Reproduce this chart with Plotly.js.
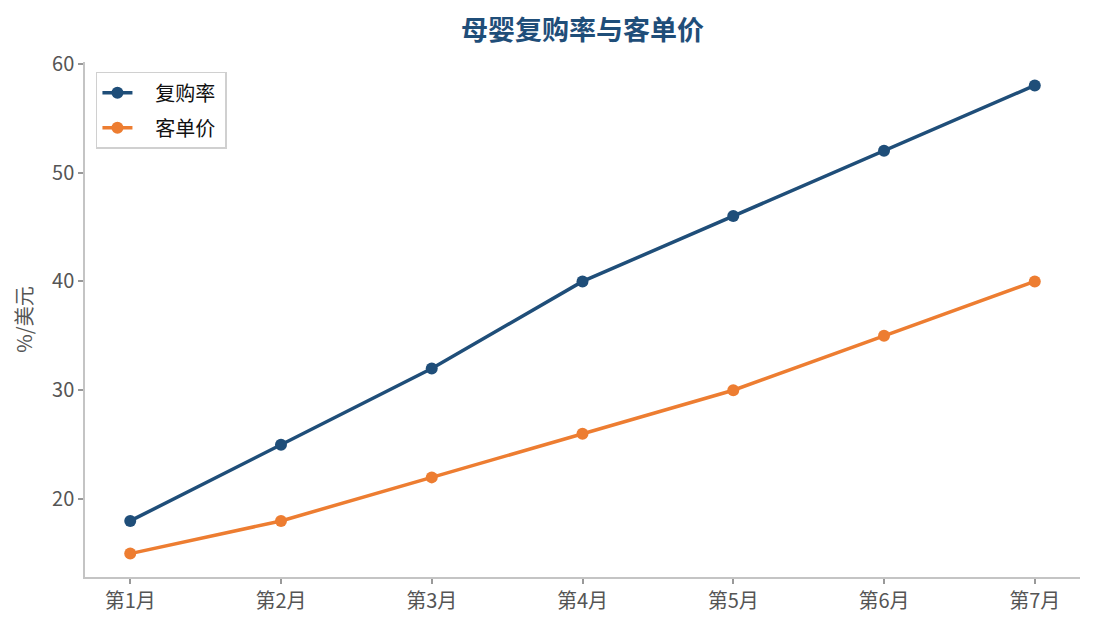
<!DOCTYPE html>
<html>
<head>
<meta charset="utf-8">
<script src="https://cdn.plot.ly/plotly-3.0.1.min.js"></script>
<style>
  html, body { margin: 0; padding: 0; background: #fff; }
  #chart { width: 1095px; height: 630px; }
</style>
</head>
<body>
<div id="chart"></div>
<script>
var months = ['第1月', '第2月', '第3月', '第4月', '第5月', '第6月', '第7月'];
var repurchaseRate = [18, 25, 32, 40, 46, 52, 58];
var unitPrice = [15, 18, 22, 26, 30, 35, 40];

var FONT = '"Noto Sans CJK SC", "Noto Sans", sans-serif';
var PAD = '\u00a0\u00a0\u00a0\u00a0';

var traceRate = {
    x: months,
    y: repurchaseRate,
    name: PAD + '复购率\u00a0',
    legendgroup: 'rate',
    type: 'scatter',
    mode: 'lines+markers',
    line: {color: '#1f4e79', width: 3.5},
    marker: {color: '#1f4e79', size: 12}
};
var tracePrice = {
    x: months,
    y: unitPrice,
    name: PAD + '客单价\u00a0',
    legendgroup: 'price',
    type: 'scatter',
    mode: 'lines+markers',
    line: {color: '#ed7d31', width: 3.5},
    marker: {color: '#ed7d31', size: 12}
};

var layout = {
    width: 1095,
    height: 630,
    margin: {l: 85, r: 15, t: 62, b: 53},
    paper_bgcolor: '#fff',
    plot_bgcolor: '#fff',
    font: {family: FONT, size: 20, color: '#555'},
    title: {
        text: '<b>母婴复购率与客单价</b>',
        font: {family: FONT, size: 27, color: '#1f4e79'},
        x: 0.532, xanchor: 'center',
        y: 0.952, yanchor: 'middle'
    },
    showlegend: true,
    legend: {
        x: 0.011, y: 0.981, xanchor: 'left', yanchor: 'top',
        bgcolor: 'rgba(255,255,255,0.9)',
        bordercolor: '#d0d0d0', borderwidth: 1.5,
        font: {family: FONT, size: 20, color: '#111'},
        traceorder: 'grouped',
        tracegroupgap: 6
    },
    xaxis: {
        type: 'category',
        range: [-0.3, 6.3],
        showgrid: false, zeroline: false,
        showline: true, linecolor: '#c4c4c4', linewidth: 1.5,
        ticks: 'outside', ticklen: 5, tickcolor: '#999', tickwidth: 1.5,
        tickfont: {family: FONT, size: 20, color: '#555'}
    },
    yaxis: {
        range: [12.85, 60.15],
        tickvals: [20, 30, 40, 50, 60],
        showgrid: false, zeroline: false,
        showline: true, linecolor: '#c4c4c4', linewidth: 1.5,
        ticks: 'outside', ticklen: 5, tickcolor: '#999', tickwidth: 1.5,
        tickfont: {family: FONT, size: 20, color: '#555'},
        title: {text: '%/美元', font: {family: FONT, size: 20, color: '#555'}, standoff: 14}
    }
};

Plotly.newPlot('chart', [traceRate, tracePrice], layout, {displayModeBar: false});
</script>
</body>
</html>
